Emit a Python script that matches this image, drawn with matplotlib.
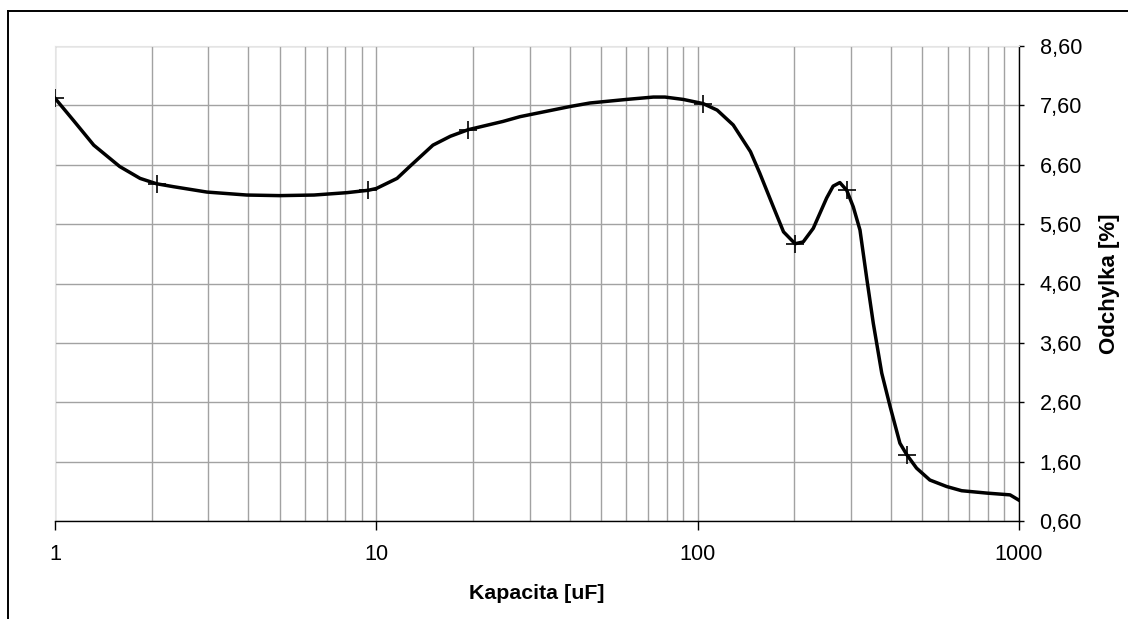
import matplotlib
matplotlib.use("Agg")
import matplotlib.pyplot as plt
from matplotlib.lines import Line2D
from matplotlib.ticker import FixedLocator, LogLocator, NullFormatter

plt.rcParams["font.family"] = ["Liberation Sans", "DejaVu Sans"]

# curve (capacity uF -> deviation %)
cap_curve = [1.0, 1.14, 1.32, 1.59, 1.84, 2.07, 2.34, 2.97, 3.95, 5.0, 6.4, 8.1, 9.44,
             10.0, 11.6, 12.7, 15.0, 17.0, 19.3, 24.8, 28.0, 40.0, 46.2, 60.0, 72.8, 79.1,
             90.2, 104, 115, 129, 146, 156, 172, 185, 201, 213, 229, 252, 264, 277, 291,
             305, 320, 336, 352, 374, 397, 426, 447, 480, 528, 596, 663, 794, 938, 1000]
dev_curve = [7.72, 7.35, 6.93, 6.57, 6.37, 6.28, 6.23, 6.14, 6.09, 6.08, 6.09, 6.13, 6.17,
             6.20, 6.37, 6.57, 6.93, 7.08, 7.19, 7.33, 7.41, 7.58, 7.64, 7.70, 7.74, 7.74,
             7.70, 7.63, 7.52, 7.27, 6.82, 6.46, 5.89, 5.47, 5.27, 5.30, 5.53, 6.04, 6.24, 6.30, 6.17,
             5.89, 5.50, 4.68, 3.93, 3.09, 2.53, 1.91, 1.72, 1.49, 1.29, 1.18, 1.11, 1.07, 1.04, 0.95]

# measured points (markers)
cap_pts = [1.0, 2.07, 9.44, 19.3, 104, 201, 291, 447]
dev_pts = [7.72, 6.28, 6.17, 7.19, 7.63, 5.27, 6.17, 1.72]

y_ticks = [0.6, 1.6, 2.6, 3.6, 4.6, 5.6, 6.6, 7.6, 8.6]
x_ticks = [1, 10, 100, 1000]

fig = plt.figure(figsize=(11.28, 6.19), dpi=100)
ax = fig.add_axes([55/1128, 98/619, 964/1128, 475/619])

ax.plot(cap_curve, dev_curve, color="black", lw=2.5, solid_joinstyle="round", zorder=3)
ax.plot(cap_pts, dev_pts, ls="none", marker="+", ms=13.5, mew=1.2, color="black", zorder=4)

ax.set_xscale("log")
ax.set_xlim(1, 1000)
ax.set_ylim(0.6, 8.6)
ax.xaxis.set_major_locator(FixedLocator(x_ticks))
ax.xaxis.set_minor_locator(LogLocator(base=10, subs=range(2, 10)))
ax.xaxis.set_minor_formatter(NullFormatter())
ax.set_xticks(x_ticks)
ax.set_xticklabels([str(v) for v in x_ticks])
ax.set_yticks(y_ticks)
ax.set_yticklabels([f"{v:.2f}".replace(".", ",") for v in y_ticks])

ax.yaxis.tick_right()
ax.yaxis.set_label_position("right")
ax.tick_params(axis="both", which="major", labelsize=15.6, color="black", width=1.0)
ax.tick_params(axis="x", which="major", direction="out", length=6.5, pad=10)
ax.tick_params(axis="y", which="major", direction="out", length=3.8, pad=11)
ax.tick_params(axis="x", which="minor", length=0)

ax.grid(True, which="both", axis="x", color="#a2a2a2", lw=1.0)
ax.grid(True, which="major", axis="y", color="#a2a2a2", lw=1.0)
ax.set_axisbelow(True)

for side in ["left", "top"]:
    ax.spines[side].set_color("#e4e4e4")
    ax.spines[side].set_linewidth(0.8)
for side in ["right", "bottom"]:
    ax.spines[side].set_color("black")
    ax.spines[side].set_linewidth(1.0)

ax.set_xlabel("Kapacita [uF]", fontsize=15.4, fontweight="bold", labelpad=14)
ax.set_ylabel("Odchylka [%]", fontsize=16, fontweight="bold", labelpad=12)

# outer chart border (left and top edges visible)
fig.add_artist(Line2D([8/1128, 8/1128], [0, 1 - 11/619], transform=fig.transFigure, color="black", lw=1.4))
fig.add_artist(Line2D([8/1128, 1], [1 - 11/619, 1 - 11/619], transform=fig.transFigure, color="black", lw=1.4))

fig.savefig("out.png", dpi=100)
